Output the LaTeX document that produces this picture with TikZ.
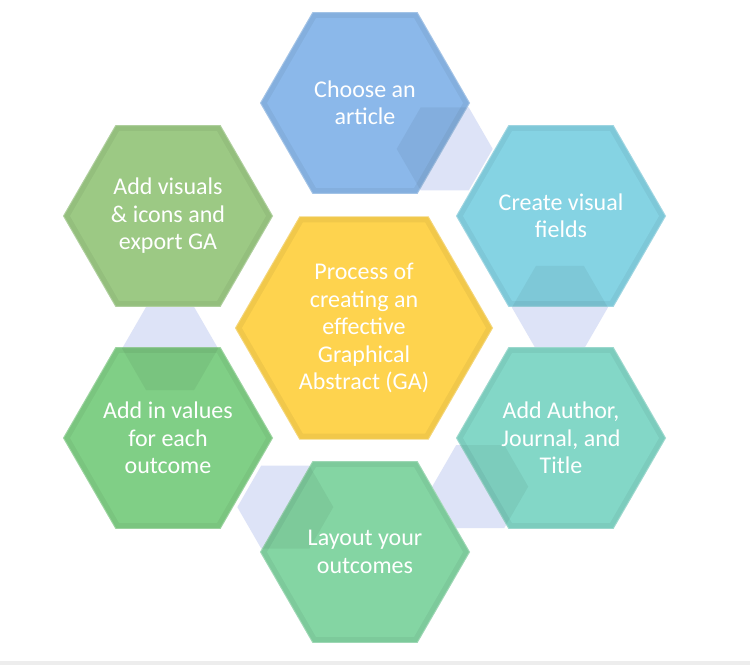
\documentclass[tikz,border=0pt]{standalone}
\usepackage{fontspec}
\setmainfont{Carlito}
\definecolor{cblue}{HTML}{8BB8EA}
\definecolor{ccyan}{HTML}{85D3E3}
\definecolor{cteal}{HTML}{83D7C7}
\definecolor{cmint}{HTML}{84D5A3}
\definecolor{cgreen}{HTML}{80CF86}
\definecolor{colive}{HTML}{9CC984}
\definecolor{cyellow}{HTML}{FED34E}
\definecolor{clav}{HTML}{DDE3F7}
\newcommand\hexpath[3]{({#1+#3},{#2}) -- ({#1+0.5*(#3)},{#2+0.8660*(#3)}) -- ({#1-0.5*(#3)},{#2+0.8660*(#3)}) -- ({#1-(#3)},{#2}) -- ({#1-0.5*(#3)},{#2-0.8660*(#3)}) -- ({#1+0.5*(#3)},{#2-0.8660*(#3)}) -- cycle}
\newcommand\hexfill[4]{%
  \fill[#4!95!black] \hexpath{#1}{#2}{#3};
  \fill[#4] \hexpath{#1}{#2}{#3-7};
  \draw[white, opacity=0.25, line width=1bp] \hexpath{#1}{#2}{#3-0.5};
}
\newcommand\patch[6]{%
  \begin{scope}
    \clip \hexpath{#1}{#2}{#3};
    \fill[black, opacity=0.05] \hexpath{#4}{#5}{#6};
  \end{scope}
}
\tikzset{
  txt/.style={text=white, align=center, inner sep=0pt,
    font=\fontsize{24bp}{27.5bp}\selectfont},
  conn/.style={fill=clav}
}
\begin{document}
\begin{tikzpicture}[x=1bp, y=-1bp]
\useasboundingbox (0,0) rectangle (750,665);
\fill[white] (0,0) rectangle (750,665);
% connectors (ring behind)
\fill[conn] \hexpath{444.7}{148.9}{48};
\fill[conn] \hexpath{559.9}{307.5}{48};
\fill[conn] \hexpath{480.2}{486.6}{48};
\fill[conn] \hexpath{285.3}{507.1}{48};
\fill[conn] \hexpath{170.1}{348.5}{48};
% hexagons
\hexfill{365}{103}{105}{cblue}
\hexfill{561}{216}{105}{ccyan}
\hexfill{561}{438}{105}{cteal}
\hexfill{365}{552}{105}{cmint}
\hexfill{168}{438}{105}{cgreen}
\hexfill{168}{216}{105}{colive}
\hexfill{364}{328}{129}{cyellow}
% overlaps of connectors on their source hexagons
\patch{365}{103}{105}{444.7}{148.9}{48}
\patch{561}{216}{105}{559.9}{307.5}{48}
\patch{561}{438}{105}{480.2}{486.6}{48}
\patch{365}{552}{105}{285.3}{507.1}{48}
\patch{168}{438}{105}{170.1}{348.5}{48}
% texts
\node[txt] (s1) at (365,103) {Choose an\\article};
\node[txt] (s2) at (561,216) {Create visual\\fields};
\node[txt] (s3) at (561,438) {Add Author,\\Journal, and\\Title};
\node[txt] (s4) at (365,552) {Layout your\\outcomes};
\node[txt] (s5) at (168,438) {Add in values\\for each\\outcome};
\node[txt] (s6) at (168,216) {Add visuals\\\& icons and\\export GA};
\node[txt] (c) at (364,328) {Process of\\creating an\\effective\\Graphical\\Abstract (GA)};
% bottom strip
\fill[black!7] (0,661) rectangle (750,665);
\end{tikzpicture}
\end{document}
